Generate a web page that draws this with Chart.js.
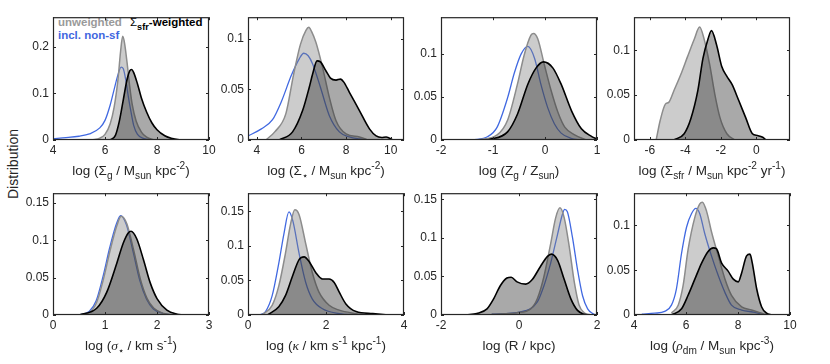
<!DOCTYPE html>
<html>
<head>
<meta charset="utf-8">
<script src="https://cdn.jsdelivr.net/npm/chart.js@4.4.0/dist/chart.umd.min.js"></script>
<style>
  body { margin: 0; background: #fff; width: 830px; height: 364px; position: relative; overflow: hidden;
         font-family: "Liberation Sans", Arial, sans-serif; color: #262626; }
  .panel { position: absolute; }
  .xtitle { position: absolute; font-size: 13.5px; line-height: 16px; white-space: nowrap; transform: translateX(-50%); }
  sub { font-size: 75%; vertical-align: -0.4em; line-height: 0; }
  sup { font-size: 75%; vertical-align: 0.55em; line-height: 0; }
  .gr { font-family: "Liberation Serif", serif; font-style: italic; }
  .ylab { position: absolute; left: 12.5px; top: 163.5px; font-size: 14px; white-space: nowrap;
          transform: translate(-50%, -50%) rotate(-90deg); }
  .leg { position: absolute; font-size: 11.5px; font-weight: bold; line-height: 13px; white-space: nowrap; }
  .leg sub { font-size: 80%; vertical-align: -0.45em; }
</style>
</head>
<body>

<div class="ylab">Distribution</div>
<div class="leg" style="left:58px; top:16px; color:#9a9a9a">unweighted</div>
<div class="leg" style="left:130px; top:16px; color:#000"><span style="font-weight:normal">Σ</span><sub>sfr</sub>-weighted</div>
<div class="leg" style="left:58px; top:29px; color:#3f67e0">incl. non-sf</div>

<script>
// ---- data: [x, y] pairs ----
// gas surface density
const gasAll = [[4,0.003],[4.5,0.005],[5,0.008],[5.4,0.013],[5.8,0.026],[6.0,0.042],[6.2,0.075],[6.35,0.108],[6.5,0.14],[6.62,0.156],[6.7,0.153],[6.8,0.128],[6.9,0.092],[7.0,0.06],[7.1,0.032],[7.25,0.012],[7.5,0.003],[7.8,0]];
const gasUnw = [[5.5,0],[5.8,0.004],[6.0,0.012],[6.2,0.035],[6.35,0.07],[6.5,0.13],[6.6,0.19],[6.68,0.222],[6.75,0.208],[6.85,0.165],[6.95,0.115],[7.05,0.075],[7.2,0.04],[7.4,0.017],[7.6,0.006],[7.9,0]];
const gasSfr = [[6.2,0],[6.4,0.01],[6.55,0.04],[6.7,0.085],[6.85,0.13],[6.95,0.148],[7.02,0.151],[7.1,0.145],[7.25,0.12],[7.4,0.09],[7.6,0.06],[7.8,0.037],[8.0,0.022],[8.3,0.009],[8.6,0.003],[8.9,0]];
// stellar surface density
const starAll = [[3.6,0.004],[4.2,0.011],[4.7,0.02],[5.1,0.038],[5.55,0.064],[5.9,0.08],[6.1,0.0855],[6.3,0.083],[6.5,0.075],[6.85,0.052],[7.25,0.024],[7.7,0.008],[8.15,0.003],[8.6,0.001],[9,0]];
const starUnw = [[4.4,0],[4.8,0.008],[5.3,0.026],[5.65,0.065],[5.95,0.094],[6.2,0.108],[6.33,0.111],[6.45,0.107],[6.65,0.096],[6.95,0.071],[7.25,0.042],[7.55,0.019],[8.0,0.006],[8.6,0.003],[9.0,0]];
const starSfr = [[5.0,0],[5.6,0.008],[6.05,0.029],[6.35,0.052],[6.5,0.065],[6.7,0.078],[6.85,0.077],[7.1,0.068],[7.3,0.061],[7.55,0.059],[7.75,0.06],[7.9,0.057],[8.15,0.047],[8.6,0.029],[9.05,0.011],[9.35,0.004],[9.6,0.0025],[9.8,0.003],[10.1,0]];
// gas metallicity
const metAll = [[-1.4,0],[-1.1,0.004],[-0.92,0.015],[-0.72,0.049],[-0.59,0.078],[-0.46,0.1],[-0.33,0.109],[-0.2,0.095],[-0.08,0.065],[0.05,0.038],[0.18,0.019],[0.31,0.008],[0.5,0.002],[0.7,0]];
const metUnw = [[-1.3,0],[-0.92,0.006],[-0.72,0.023],[-0.53,0.065],[-0.4,0.099],[-0.27,0.122],[-0.22,0.124],[-0.14,0.118],[-0.01,0.087],[0.12,0.057],[0.25,0.032],[0.38,0.015],[0.57,0.006],[0.8,0]];
const metSfr = [[-1.1,0],[-0.72,0.0095],[-0.53,0.03],[-0.33,0.065],[-0.17,0.084],[-0.03,0.091],[0.15,0.084],[0.31,0.065],[0.51,0.034],[0.7,0.013],[0.9,0.004],[1.0,0.001]];
// SFR surface density (no non-sf curve)
const sfrAll = [];
const sfrUnw = [[-5.65,0],[-5.42,0.022],[-5.13,0.04],[-4.94,0.042],[-4.65,0.055],[-4.26,0.073],[-3.88,0.093],[-3.49,0.113],[-3.2,0.126],[-2.95,0.113],[-2.63,0.084],[-2.34,0.051],[-2.05,0.025],[-1.66,0.007],[-1.2,0]];
const sfrSfr = [[-4.65,0],[-4.07,0.007],[-3.69,0.024],[-3.3,0.055],[-3.01,0.091],[-2.72,0.113],[-2.53,0.122],[-2.24,0.106],[-1.95,0.082],[-1.66,0.071],[-1.37,0.062],[-0.99,0.044],[-0.6,0.025],[-0.22,0.007],[0.07,0.005],[0.36,0.003],[0.55,0]];
// stellar velocity dispersion
const sigAll = [[0.5,0],[0.7,0.005],[0.83,0.019],[0.96,0.051],[1.09,0.09],[1.22,0.122],[1.3,0.133],[1.41,0.121],[1.54,0.085],[1.67,0.046],[1.8,0.021],[1.93,0.008],[2.12,0.002],[2.3,0]];
const sigUnw = [[0.5,0],[0.71,0.004],[0.84,0.017],[0.97,0.048],[1.1,0.087],[1.23,0.12],[1.31,0.132],[1.42,0.122],[1.55,0.087],[1.68,0.048],[1.81,0.022],[1.94,0.009],[2.13,0.002],[2.3,0]];
const sigSfr = [[0.5,0],[0.84,0.009],[1.03,0.03],[1.23,0.07],[1.35,0.096],[1.45,0.11],[1.5,0.112],[1.61,0.102],[1.74,0.074],[1.87,0.043],[2.0,0.022],[2.19,0.0065],[2.39,0.001],[2.5,0]];
// epicyclic frequency
const kapAll = [[0.3,0],[0.45,0.005],[0.62,0.028],[0.79,0.075],[0.92,0.117],[1.05,0.149],[1.15,0.136],[1.31,0.089],[1.48,0.047],[1.65,0.023],[1.91,0.009],[2.34,0.002],[2.8,0]];
const kapUnw = [[0.35,0],[0.62,0.014],[0.79,0.042],[0.96,0.089],[1.09,0.131],[1.2,0.152],[1.31,0.145],[1.48,0.103],[1.65,0.061],[1.82,0.033],[2.08,0.014],[2.34,0.007],[2.77,0.002],[3.0,0]];
const kapSfr = [[0.5,0],[0.79,0.012],[0.96,0.028],[1.14,0.056],[1.31,0.08],[1.44,0.084],[1.57,0.077],[1.74,0.061],[1.91,0.052],[2.08,0.052],[2.21,0.047],[2.34,0.033],[2.51,0.016],[2.77,0.005],[3.2,0.002],[3.6,0]];
// galactocentric radius
const radAll = [[-0.7,0.001],[0.04,0.004],[0.47,0.017],[0.64,0.038],[0.81,0.067],[0.99,0.105],[1.11,0.13],[1.17,0.137],[1.24,0.134],[1.37,0.101],[1.5,0.059],[1.63,0.025],[1.76,0.008],[1.89,0.002],[1.97,0]];
const radUnw = [[-0.7,0.001],[-0.05,0.003],[0.3,0.008],[0.47,0.021],[0.64,0.05],[0.81,0.092],[0.94,0.126],[1.05,0.139],[1.16,0.126],[1.29,0.088],[1.42,0.042],[1.54,0.013],[1.67,0.003],[1.85,0]];
const radSfr = [[-1.35,0],[-1.08,0.002],[-0.82,0.008],[-0.65,0.021],[-0.48,0.038],[-0.31,0.048],[-0.2,0.049],[-0.05,0.043],[0.17,0.04],[0.34,0.046],[0.55,0.063],[0.73,0.076],[0.83,0.079],[0.99,0.071],[1.16,0.046],[1.33,0.021],[1.5,0.006],[1.67,0.001],[1.8,0]];
// dark matter density
const dmAll = [[4.3,0.001],[4.8,0.002],[5.18,0.004],[5.44,0.011],[5.63,0.029],[5.83,0.069],[6.02,0.098],[6.21,0.113],[6.38,0.119],[6.53,0.113],[6.72,0.091],[6.98,0.066],[7.24,0.044],[7.5,0.025],[7.75,0.011],[8.14,0.0055],[8.65,0.003],[9.04,0]];
const dmUnw = [[5.44,0.002],[5.7,0.011],[5.89,0.033],[6.08,0.073],[6.34,0.109],[6.53,0.124],[6.63,0.126],[6.79,0.116],[6.98,0.093],[7.24,0.066],[7.5,0.04],[7.75,0.022],[8.14,0.009],[8.52,0.0055],[8.91,0.002],[9.1,0]];
const dmSfr = [[5.44,0],[5.83,0.007],[6.08,0.022],[6.34,0.04],[6.6,0.058],[6.85,0.071],[7.05,0.075],[7.17,0.074],[7.37,0.058],[7.62,0.049],[7.82,0.04],[8.01,0.037],[8.14,0.047],[8.33,0.066],[8.46,0.068],[8.55,0.058],[8.72,0.029],[8.91,0.009],[9.1,0.002],[9.3,0]];

// axis titles
const xTitles = [
  'log (Σ<sub>g</sub> / M<sub>sun</sub> kpc<sup>-2</sup>)',
  'log (Σ<sub>⋆</sub> / M<sub>sun</sub> kpc<sup>-2</sup>)',
  'log (Z<sub>g</sub> / Z<sub>sun</sub>)',
  'log (Σ<sub>sfr</sub> / M<sub>sun</sub> kpc<sup>-2</sup> yr<sup>-1</sup>)',
  'log (<span class="gr">σ</span><sub>⋆</sub> / km s<sup>-1</sup>)',
  'log (<span class="gr">κ</span> / km s<sup>-1</sup> kpc<sup>-1</sup>)',
  'log (R / kpc)',
  'log (<span class="gr">ρ</span><sub>dm</sub> / M<sub>sun</sub> kpc<sup>-3</sup>)'
];

// =================== LAYOUT ===================
const FONT = '"Liberation Sans", Arial, sans-serif';
const PAD_L = 40, PAD_T = 8, PAD_R = 10, PAD_B = 22;
const lefts = [53, 248, 441, 634];
const rowTop = [14, 190];
const rowH = [126, 125];
const plotW = 156;

const panels = [
  { all: gasAll,  unw: gasUnw,  sfr: gasSfr,  x: [4, 10, 2],     yMax: 0.263, yStep: 0.1 },
  { all: starAll, unw: starUnw, sfr: starSfr, x: [3.6, 10.6, 2], yMax: 0.121, yStep: 0.05 },
  { all: metAll,  unw: metUnw,  sfr: metSfr,  x: [-2, 1, 1],     yMax: 0.143, yStep: 0.05 },
  { all: sfrAll,  unw: sfrUnw,  sfr: sfrSfr,  x: [-6.9, 1.9, 2], yMax: 0.137, yStep: 0.05 },
  { all: sigAll,  unw: sigUnw,  sfr: sigSfr,  x: [0, 3, 1],      yMax: 0.163, yStep: 0.05 },
  { all: kapAll,  unw: kapUnw,  sfr: kapSfr,  x: [0, 4, 2],      yMax: 0.176, yStep: 0.05 },
  { all: radAll,  unw: radUnw,  sfr: radSfr,  x: [-2, 2, 2],     yMax: 0.158, yStep: 0.05 },
  { all: dmAll,   unw: dmUnw,   sfr: dmSfr,   x: [4, 10, 2],     yMax: 0.136, yStep: 0.05 }
];

// MATLAB style inward ticks + box
const boxTicks = {
  id: 'boxTicks',
  afterDraw(chart) {
    const { ctx, chartArea: a, scales: { x, y } } = chart;
    ctx.save();
    ctx.strokeStyle = '#262626';
    ctx.lineWidth = 1;
    ctx.beginPath();
    x.ticks.forEach(t => {
      const px = Math.round(x.getPixelForValue(t.value)) + 0.5;
      ctx.moveTo(px, a.bottom); ctx.lineTo(px, a.bottom - 3);
      ctx.moveTo(px, a.top); ctx.lineTo(px, a.top + 3);
    });
    y.ticks.forEach(t => {
      const py = Math.round(y.getPixelForValue(t.value)) + 0.5;
      ctx.moveTo(a.left, py); ctx.lineTo(a.left + 3, py);
      ctx.moveTo(a.right, py); ctx.lineTo(a.right - 3, py);
    });
    ctx.stroke();
    ctx.lineWidth = 1.2;
    ctx.strokeRect(a.left + 0.5, a.top + 0.5, a.width - 1, a.height - 1);
    ctx.restore();
  }
};

const fmt = v => String(+v.toFixed(3));
const pts = arr => arr.map(([x, y]) => ({ x, y }));

panels.forEach((p, i) => {
  const row = i < 4 ? 0 : 1;
  const L = lefts[i % 4], T = rowTop[row], H = rowH[row];

  const box = document.createElement('div');
  box.className = 'panel';
  box.style.left = (L - PAD_L) + 'px';
  box.style.top = (T - PAD_T) + 'px';
  const cv = document.createElement('canvas');
  cv.width = PAD_L + plotW + PAD_R;
  cv.height = PAD_T + H + PAD_B;
  box.appendChild(cv);
  document.body.appendChild(box);

  const title = document.createElement('div');
  title.className = 'xtitle';
  title.style.left = (L + plotW / 2) + 'px';
  title.style.top = (T + H + 23) + 'px';
  title.innerHTML = xTitles[i];
  document.body.appendChild(title);

  // dataset 0 is drawn last (on top); blue line sits beneath the grey fills
  new Chart(cv, {
    type: 'line',
    data: {
      datasets: [
        { label: 'sfr-weighted', data: pts(p.sfr), borderColor: '#000', borderWidth: 1.6,
          backgroundColor: 'rgba(40,40,40,0.4)', fill: 'origin' },
        { label: 'unweighted', data: pts(p.unw), borderColor: '#8c8c8c', borderWidth: 1.5,
          backgroundColor: 'rgba(128,128,128,0.4)', fill: 'origin' },
        { label: 'incl. non-sf', data: pts(p.all), borderColor: '#4169e1', borderWidth: 1.3,
          fill: false }
      ]
    },
    options: {
      responsive: false,
      animation: false,
      events: [],
      layout: { padding: { left: 0, top: PAD_T, right: PAD_R, bottom: 0 } },
      elements: { point: { radius: 0 }, line: { cubicInterpolationMode: 'monotone' } },
      plugins: { legend: { display: false }, tooltip: { enabled: false } },
      scales: {
        x: {
          type: 'linear', min: p.x[0], max: p.x[1],
          border: { display: false },
          grid: { display: false, drawTicks: false },
          ticks: { stepSize: p.x[2], includeBounds: false, autoSkip: false, maxRotation: 0,
                   padding: 3, color: '#262626', font: { family: FONT, size: 12 }, callback: fmt },
          afterFit: s => { s.height = PAD_B; }
        },
        y: {
          type: 'linear', min: 0, max: p.yMax,
          border: { display: false },
          grid: { display: false, drawTicks: false },
          ticks: { stepSize: p.yStep, includeBounds: false, padding: 4,
                   color: '#262626', font: { family: FONT, size: 12 }, callback: fmt },
          afterFit: s => { s.width = PAD_L; }
        }
      }
    },
    plugins: [boxTicks]
  });
});
</script>
</body>
</html>
